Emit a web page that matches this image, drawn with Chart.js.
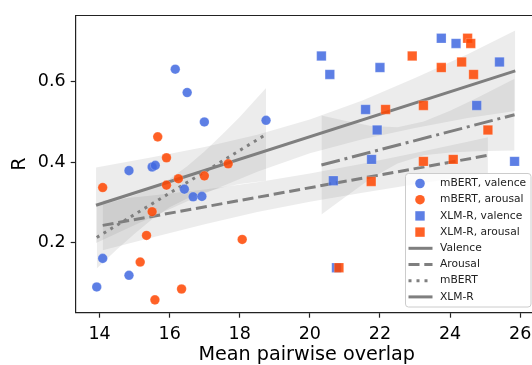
<!DOCTYPE html>
<html><head><meta charset="utf-8">
<script src="https://cdn.jsdelivr.net/npm/chart.js@4.4.1/dist/chart.umd.min.js"></script>
<style>html,body{margin:0;padding:0;overflow:hidden;background:#fff;width:532px;height:365px}canvas{display:block}</style>
</head><body>
<canvas id="c" width="545" height="365" style="width:545px;height:365px"></canvas>
<script>
// ---- data ----
const mbertValX = [13.92, 14.09, 14.84, 14.84, 15.50, 15.59, 16.16, 16.42, 16.50, 16.67, 16.92, 16.99, 18.75];
const mbertValY = [0.090, 0.161, 0.379, 0.119, 0.388, 0.392, 0.631, 0.333, 0.573, 0.314, 0.315, 0.500, 0.504];
const mbertAroX = [14.09, 15.16, 15.34, 15.50, 15.58, 15.66, 15.91, 15.91, 16.25, 16.34, 16.99, 17.67, 18.07];
const mbertAroY = [0.337, 0.152, 0.218, 0.277, 0.058, 0.463, 0.411, 0.343, 0.359, 0.085, 0.366, 0.396, 0.208];
const xlmrValX = [20.33, 20.57, 20.67, 20.76, 21.59, 21.76, 21.92, 22.00, 23.75, 24.17, 24.76, 25.41, 25.84];
const xlmrValY = [0.664, 0.618, 0.354, 0.138, 0.531, 0.407, 0.480, 0.635, 0.708, 0.695, 0.541, 0.649, 0.402];
const xlmrAroX = [20.83, 21.75, 22.16, 22.92, 23.24, 23.24, 23.75, 24.09, 24.33, 24.50, 24.59, 24.67, 25.08];
const xlmrAroY = [0.138, 0.352, 0.531, 0.664, 0.541, 0.402, 0.635, 0.407, 0.649, 0.708, 0.695, 0.618, 0.480];

// regression lines (end points)
const valLineX = [13.90, 25.86];   const valLineY = [0.293, 0.627];
const aroLineX = [14.09, 25.08];   const aroLineY = [0.243, 0.417];
const mbertLineX = [13.92, 18.75]; const mbertLineY = [0.213, 0.469];
const xlmrLineX = [20.33, 25.84];  const xlmrLineY = [0.393, 0.518];

// confidence bands
const valBandX = [13.90, 15.5, 17, 18.5, 20, 21.5, 23, 24.5, 25.86];
const valBandHi = [0.387, 0.412, 0.438, 0.468, 0.506, 0.553, 0.609, 0.668, 0.727];
const valBandLo = [0.199, 0.264, 0.322, 0.376, 0.422, 0.457, 0.485, 0.510, 0.527];
const aroBandX = [14.09, 15.5, 17, 18.5, 20, 21.5, 23, 24.5, 25.08];
const aroBandHi = [0.305, 0.317, 0.332, 0.350, 0.372, 0.396, 0.423, 0.451, 0.462];
const aroBandLo = [0.181, 0.213, 0.246, 0.276, 0.302, 0.324, 0.345, 0.365, 0.372];
const mbertBandX = [13.92, 14.5, 15, 15.5, 16, 16.5, 17, 17.5, 18, 18.75];
const mbertBandHi = [0.290, 0.304, 0.318, 0.336, 0.358, 0.390, 0.427, 0.469, 0.512, 0.584];
const mbertBandLo = [0.136, 0.184, 0.222, 0.258, 0.288, 0.310, 0.325, 0.337, 0.346, 0.354];
const xlmrBandX = [20.33, 21, 21.75, 22.5, 23.25, 24, 24.75, 25.84];
const xlmrBandHi = [0.516, 0.503, 0.490, 0.487, 0.501, 0.528, 0.559, 0.607];
const xlmrBandLo = [0.270, 0.313, 0.360, 0.397, 0.417, 0.424, 0.427, 0.429];

const xTicks = [14, 16, 18, 20, 22, 24, 26];
const yTicks = [0.2, 0.4, 0.6];
const xTitle = 'Mean pairwise overlap';
const yTitle = 'R';
const legendLabels = ['mBERT, valence', 'mBERT, arousal', 'XLM-R, valence', 'XLM-R, arousal', 'Valence', 'Arousal', 'mBERT', 'XLM-R'];

// ---- styles ----
const BLUE = 'rgba(65,105,225,0.85)';
const ORANGE = 'rgba(255,69,0,0.85)';
const GRAY = '#7f7f7f';
const BAND = 'rgba(128,128,128,0.15)';
const LW = 3;
const DASH = {solid: [], dashed: [11, 4.8], dotted: [3, 5], dashdot: [19, 4.8, 3, 4.8]};

const pts = (xs, ys) => xs.map((x, i) => ({x: x, y: ys[i]}));

function scatterDs(label, xs, ys, color, style) {
  return {label, data: pts(xs, ys), showLine: false, pointStyle: style,
    pointRadius: style === 'rect' ? 6.7 : 4.8, pointBackgroundColor: color,
    pointBorderColor: 'rgba(255,255,255,0.35)', pointBorderWidth: 0.6,
    backgroundColor: color, borderColor: color, fill: false, _legend: {kind: 'marker', style, color}};
}
function lineDs(label, xs, ys, dash, legendDash) {
  return {label, data: pts(xs, ys), showLine: true, borderColor: GRAY, borderWidth: LW,
    borderDash: dash, borderCapStyle: 'butt', pointRadius: 0, fill: false, tension: 0,
    _legend: {kind: 'line', dash: legendDash}};
}
function bandDs(xs, ys, isUpper) {
  return {label: '', data: pts(xs, ys), showLine: true, borderColor: 'transparent', borderWidth: 0,
    pointRadius: 0, tension: 0, backgroundColor: BAND, fill: isUpper ? '-1' : false};
}

const datasets = [
  scatterDs(legendLabels[3], xlmrAroX, xlmrAroY, ORANGE, 'rect'),
  scatterDs(legendLabels[2], xlmrValX, xlmrValY, BLUE, 'rect'),
  scatterDs(legendLabels[1], mbertAroX, mbertAroY, ORANGE, 'circle'),
  scatterDs(legendLabels[0], mbertValX, mbertValY, BLUE, 'circle'),
  lineDs(legendLabels[4], valLineX, valLineY, DASH.solid, DASH.solid),
  lineDs(legendLabels[5], aroLineX, aroLineY, DASH.dashed, DASH.dashed),
  lineDs(legendLabels[6], mbertLineX, mbertLineY, DASH.dotted, DASH.dotted),
  lineDs(legendLabels[7], xlmrLineX, xlmrLineY, DASH.dashdot, DASH.solid),
  bandDs(valBandX, valBandLo, false), bandDs(valBandX, valBandHi, true),
  bandDs(aroBandX, aroBandLo, false), bandDs(aroBandX, aroBandHi, true),
  bandDs(mbertBandX, mbertBandLo, false), bandDs(mbertBandX, mbertBandHi, true),
  bandDs(xlmrBandX, xlmrBandLo, false), bandDs(xlmrBandX, xlmrBandHi, true)
];

const FONT = 'DejaVu Sans';

const framePlugin = {
  id: 'frameAndLegend',
  afterDatasetsDraw(chart) {
    const ctx = chart.ctx, a = chart.chartArea;
    ctx.save();
    ctx.strokeStyle = '#222'; ctx.lineWidth = 1.2;
    ctx.beginPath(); ctx.moveTo(a.left, a.top); ctx.lineTo(a.right, a.top); ctx.stroke();

    // legend
    const bx = 405.5, by = 173.5, bw = 125.5, bh = 133.5, r = 3;
    ctx.beginPath();
    ctx.moveTo(bx + r, by); ctx.lineTo(bx + bw - r, by); ctx.arcTo(bx + bw, by, bx + bw, by + r, r);
    ctx.lineTo(bx + bw, by + bh - r); ctx.arcTo(bx + bw, by + bh, bx + bw - r, by + bh, r);
    ctx.lineTo(bx + r, by + bh); ctx.arcTo(bx, by + bh, bx, by + bh - r, r);
    ctx.lineTo(bx, by + r); ctx.arcTo(bx, by, bx + r, by, r); ctx.closePath();
    ctx.fillStyle = 'rgba(255,255,255,0.8)'; ctx.fill();
    ctx.strokeStyle = '#cccccc'; ctx.lineWidth = 1; ctx.stroke();

    const byLabel = {};
    chart.data.datasets.forEach(d => { if (d._legend) byLabel[d.label] = d; });
    ctx.font = '10.7px "' + FONT + '"';
    ctx.textBaseline = 'middle'; ctx.textAlign = 'left';
    legendLabels.forEach((lab, i) => {
      const y = 183.5 + i * 16.2;
      const d = byLabel[lab];
      const lg = d._legend;
      if (lg.kind === 'marker') {
        ctx.fillStyle = lg.color;
        if (lg.style === 'circle') {
          ctx.beginPath(); ctx.arc(420, y, 4.8, 0, Math.PI * 2); ctx.fill();
        } else {
          ctx.fillRect(420 - 4.7, y - 4.7, 9.4, 9.4);
        }
      } else {
        ctx.strokeStyle = GRAY; ctx.lineWidth = LW; ctx.lineCap = 'butt';
        ctx.setLineDash(lg.dash);
        ctx.beginPath(); ctx.moveTo(408.5, y); ctx.lineTo(432.5, y); ctx.stroke();
        ctx.setLineDash([]);
      }
      ctx.fillStyle = '#222';
      ctx.fillText(lab, 440, y);
    });
    ctx.restore();
  }
};

new Chart(document.getElementById('c'), {
  type: 'line',
  data: {datasets},
  options: {
    responsive: false, animation: false, events: [],
    layout: {padding: {top: 13.7, right: 6.5, bottom: 0, left: 0}},
    plugins: {legend: {display: false}, tooltip: {enabled: false}, filler: {drawTime: 'beforeDatasetsDraw'}},
    scales: {
      x: {
        type: 'linear', min: 13.32, max: 26.5,
        afterBuildTicks: s => { s.ticks = xTicks.map(v => ({value: v})); },
        afterFit: s => { s.height = 52.3; },
        ticks: {font: {family: FONT, size: 17.5}, color: '#000', padding: 6, maxRotation: 0, autoSkip: false,
          callback: v => String(v)},
        grid: {drawOnChartArea: false, drawTicks: true, tickLength: 5, tickWidth: 1.2, tickColor: '#222'},
        border: {display: true, color: '#222', width: 1.2},
        title: {display: true, text: xTitle, color: '#000', font: {family: FONT, size: 19.2, lineHeight: 1}, padding: {top: 0, bottom: 0}}
      },
      y: {
        type: 'linear', min: 0.0261, max: 0.7644,
        afterBuildTicks: s => { s.ticks = yTicks.map(v => ({value: v})); },
        afterFit: s => { s.width = 75.7; },
        ticks: {font: {family: FONT, size: 17.5}, color: '#000', padding: 5, callback: v => v.toFixed(1)},
        grid: {drawOnChartArea: false, drawTicks: true, tickLength: 5, tickWidth: 1.2, tickColor: '#222'},
        border: {display: true, color: '#222', width: 1.2},
        title: {display: true, text: yTitle, color: '#000', font: {family: FONT, size: 19.2, lineHeight: 1}, padding: {top: 10.5, bottom: 0}}
      }
    }
  },
  plugins: [framePlugin]
});
</script>
</body></html>
